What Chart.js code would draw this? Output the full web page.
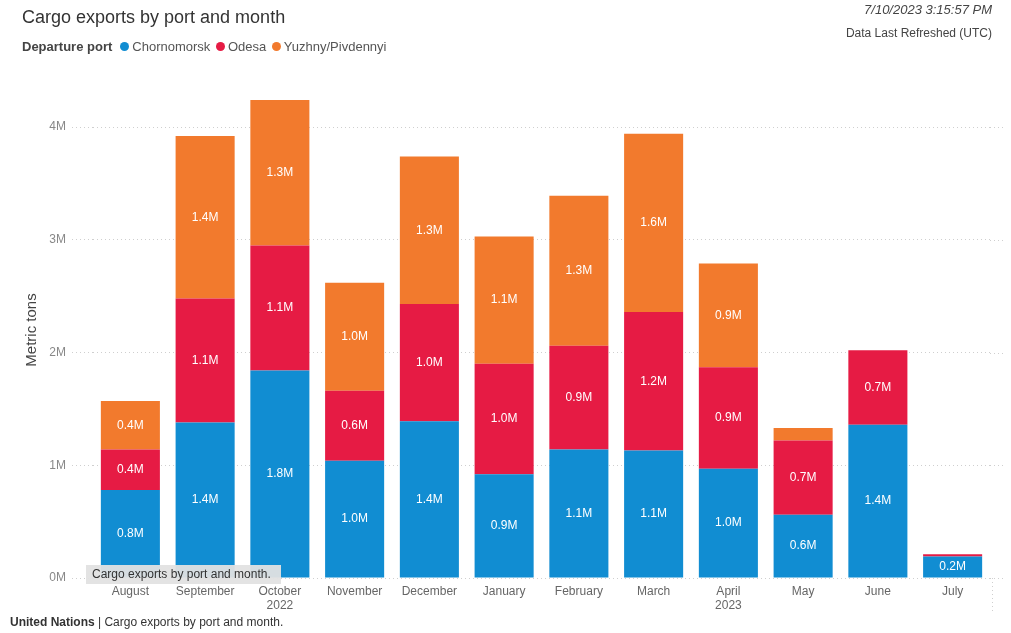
<!DOCTYPE html>
<html>
<head>
<meta charset="utf-8">
<script src="https://cdn.jsdelivr.net/npm/chart.js@4/dist/chart.umd.min.js"></script>
<style>
  body { margin: 0; background: #fff; font-family: 'Liberation Sans', Arial, sans-serif; }
  #wrap { position: relative; width: 1011px; height: 633px; overflow: hidden; }
  #chart { position: absolute; left: 0; top: 0; }
  .title { position: absolute; left: 22px; top: 7px; font-size: 18px; color: #333; }
  .legend { position: absolute; left: 22px; top: 39px; font-size: 13px; color: #555; white-space: nowrap; }
  .legend b { color: #444; margin-right: 6px; }
  .legend span.dot { display: inline-block; width: 9px; height: 9px; border-radius: 50%; margin: 0 3px 0 2px; vertical-align: 0px; }
  .stamp { position: absolute; right: 19px; top: 2px; font-size: 13px; color: #444; font-style: italic; }
  .refresh { position: absolute; right: 19px; top: 26px; font-size: 12px; color: #444; }
  .tip { position: absolute; left: 86px; top: 565px; width: 195px; height: 19px; background: rgba(225,225,225,0.95); font-size: 12px; color: #333; line-height: 19px; padding-left: 6px; box-sizing: border-box; }
  .footer { position: absolute; left: 10px; top: 615px; font-size: 12px; color: #333; }
</style>
</head>
<body>
<div id="wrap">
  <canvas id="chart" width="1011" height="633"></canvas>
  <div class="title">Cargo exports by port and month</div>
  <div class="legend" id="legend"><b>Departure port</b></div>
  <div class="stamp">7/10/2023 3:15:57 PM</div>
  <div class="refresh">Data Last Refreshed (UTC)</div>
  <div class="tip">Cargo exports by port and month.</div>
  <div class="footer"><b>United Nations</b> | Cargo exports by port and month.</div>
</div>
<script>
// mois (août 2022 -> juillet 2023)
const months = [
    "August", "September", ["October", "2022"], "November", "December",
    "January", "February", "March", ["April", "2023"], "May", "June", "July"
];
const ports = ["Chornomorsk", "Odesa", "Yuzhny/Pivdennyi"];

// valeurs en millions de tonnes
const chornomorsk = [0.78, 1.38, 1.84, 1.04, 1.39, 0.92, 1.14, 1.13, 0.97, 0.56, 1.36, 0.19];
const odesa       = [0.36, 1.10, 1.11, 0.62, 1.04, 0.98, 0.92, 1.23, 0.90, 0.66, 0.66, 0.02];
const yuzhny      = [0.43, 1.44, 1.29, 0.96, 1.31, 1.13, 1.33, 1.58, 0.92, 0.11, 0, 0];

const yTicks = [0, 1, 2, 3, 4];
const colors = ['#118DD2', '#E61B44', '#F27A2D'];
const gridColor = '#cfcfcf';

const toTons = arr => arr.map(v => v * 1e6);

// légende HTML
const legend = document.getElementById('legend');
ports.forEach((p, i) => {
    legend.insertAdjacentHTML('beforeend',
        '<span class="dot" style="background:' + colors[i] + '"></span>' + p + ' ');
});

// étiquettes blanches au centre des segments
const segmentLabels = {
    id: 'segmentLabels',
    afterDatasetsDraw(chart) {
        const ctx = chart.ctx;
        ctx.save();
        ctx.fillStyle = '#fff';
        ctx.font = "12px 'Liberation Sans', Arial, sans-serif";
        ctx.textAlign = 'center';
        ctx.textBaseline = 'middle';
        chart.data.datasets.forEach((ds, di) => {
            chart.getDatasetMeta(di).data.forEach((bar, i) => {
                const v = ds.data[i];
                const h = Math.abs(bar.base - bar.y);
                if (!v || h < 16) return;
                ctx.fillText((v / 1e6).toFixed(1) + 'M', bar.x, (bar.y + bar.base) / 2);
            });
        });
        ctx.restore();
    }
};

// prolonge la grille à droite + petit trait vertical en bas
const gridExtension = {
    id: 'gridExtension',
    beforeDatasetsDraw(chart) {
        const { ctx, chartArea, scales } = chart;
        ctx.save();
        ctx.strokeStyle = gridColor;
        ctx.lineWidth = 1;
        ctx.setLineDash([1, 3]);
        yTicks.forEach(t => {
            const y = Math.round(scales.y.getPixelForValue(t * 1e6)) + 0.5;
            ctx.beginPath();
            ctx.moveTo(chartArea.right, y);
            ctx.lineTo(1006, y);
            ctx.stroke();
        });
        ctx.beginPath();
        ctx.moveTo(992.5, chartArea.bottom);
        ctx.lineTo(992.5, chartArea.bottom + 36);
        ctx.stroke();
        ctx.restore();
    }
};

const ctx = document.getElementById('chart').getContext('2d');
new Chart(ctx, {
    type: 'bar',
    data: {
        labels: months,
        datasets: [
            { label: ports[0], data: toTons(chornomorsk), backgroundColor: colors[0] },
            { label: ports[1], data: toTons(odesa), backgroundColor: colors[1] },
            { label: ports[2], data: toTons(yuzhny), backgroundColor: colors[2] }
        ]
    },
    options: {
        responsive: false,
        animation: false,
        categoryPercentage: 0.79,
        barPercentage: 1,
        layout: { padding: { left: 13, right: 21, top: 82, bottom: 10 } },
        plugins: {
            legend: { display: false },
            tooltip: { enabled: false }
        },
        scales: {
            x: {
                stacked: true,
                grid: { display: false, drawTicks: false },
                border: { display: false },
                ticks: {
                    color: '#666',
                    font: { size: 12, family: "'Liberation Sans', Arial, sans-serif" },
                    padding: 6,
                    maxRotation: 0,
                    autoSkip: false
                },
                afterFit: s => { s.height = 45; }
            },
            y: {
                stacked: true,
                min: 0,
                max: 4.4e6,
                afterBuildTicks: s => { s.ticks = yTicks.map(v => ({ value: v * 1e6 })); },
                border: { display: false, dash: [1, 3] },
                grid: {
                    color: gridColor,
                    tickColor: gridColor,
                    tickBorderDash: [1, 3],
                    tickLength: 21
                },
                ticks: {
                    color: '#888',
                    font: { size: 12, family: "'Liberation Sans', Arial, sans-serif" },
                    padding: 6,
                    callback: v => (v / 1e6) + 'M'
                },
                title: {
                    display: true,
                    text: 'Metric tons',
                    color: '#444',
                    font: { size: 15, family: "'Liberation Sans', Arial, sans-serif" },
                    padding: { top: 10, bottom: 0 }
                },
                afterFit: s => { s.width = 80; }
            }
        }
    },
    plugins: [segmentLabels, gridExtension]
});
</script>
</body>
</html>
